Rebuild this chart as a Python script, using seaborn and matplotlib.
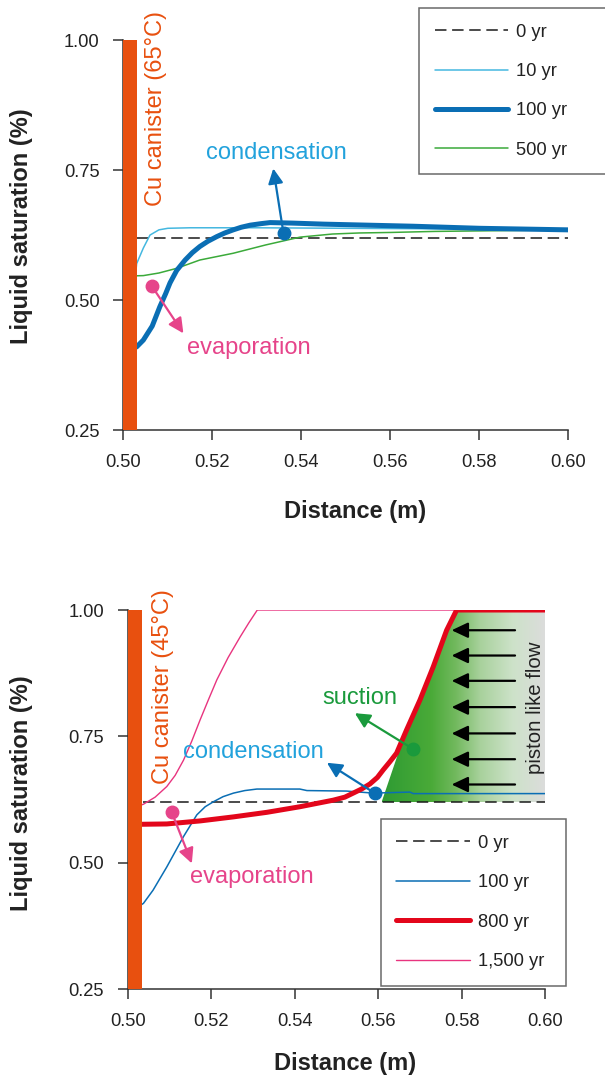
import numpy as np
import pandas as pd
import matplotlib
matplotlib.use("Agg")
import matplotlib.pyplot as plt
from matplotlib.colors import LinearSegmentedColormap
from matplotlib.patches import Polygon
from matplotlib.lines import Line2D
import seaborn as sns

# ---------------- data: canister at 65 °C ----------------
top_x_0 = [0.503, 0.600]
top_y_0 = [0.62, 0.62]

top_x_10 = [0.500, 0.503, 0.5045, 0.506, 0.508, 0.510, 0.515, 0.530, 0.550, 0.570, 0.600]
top_y_10 = [0.31, 0.57, 0.600, 0.625, 0.635, 0.638, 0.639, 0.639, 0.638, 0.637, 0.635]

top_x_100 = [0.500, 0.503, 0.5045, 0.5065, 0.5082, 0.5095, 0.5105, 0.512, 0.5139, 0.5155,
             0.5172, 0.519, 0.521, 0.5228, 0.5247, 0.5265, 0.5285, 0.531, 0.533, 0.538,
             0.545, 0.555, 0.565, 0.580, 0.600]
top_y_100 = [0.40, 0.41, 0.423, 0.450, 0.487, 0.512, 0.533, 0.557, 0.577, 0.591,
             0.603, 0.613, 0.622, 0.629, 0.635, 0.640, 0.644, 0.647, 0.649, 0.648,
             0.646, 0.644, 0.642, 0.638, 0.635]

top_x_500 = [0.500, 0.5045, 0.508, 0.512, 0.5172, 0.5247, 0.532, 0.5397, 0.547, 0.553, 0.560,
             0.570, 0.580, 0.590, 0.600]
top_y_500 = [0.546, 0.547, 0.552, 0.561, 0.577, 0.590, 0.606, 0.621, 0.627, 0.629, 0.630,
             0.632, 0.633, 0.634, 0.635]

top_labels = ["0 yr", "10 yr", "100 yr", "500 yr"]

# ---------------- data: canister at 45 °C ----------------
bot_x_0 = [0.5035, 0.600]
bot_y_0 = [0.62, 0.62]

bot_x_100 = [0.500, 0.5037, 0.506, 0.5093, 0.5133, 0.5165, 0.5185, 0.5205, 0.5228, 0.5253,
             0.528, 0.5309, 0.5412, 0.5429, 0.5524, 0.5588, 0.5676, 0.5684, 0.600]
bot_y_100 = [0.40, 0.42, 0.446, 0.492, 0.552, 0.595, 0.611, 0.621, 0.631, 0.638,
             0.643, 0.646, 0.646, 0.643, 0.642, 0.638, 0.640, 0.637, 0.637]

bot_x_800 = [0.500, 0.5093, 0.5173, 0.5253, 0.5333, 0.5412, 0.5492, 0.552, 0.554, 0.556, 0.558,
             0.5598, 0.5612, 0.5628, 0.5644, 0.5668, 0.570, 0.5732, 0.5764, 0.5788, 0.600]
bot_y_800 = [0.576, 0.577, 0.583, 0.591, 0.600, 0.611, 0.624, 0.630, 0.638, 0.646, 0.656,
             0.669, 0.684, 0.700, 0.717, 0.763, 0.822, 0.888, 0.960, 1.000, 1.000]

bot_x_1500 = [0.500, 0.5037, 0.5065, 0.5093, 0.5113, 0.5133, 0.5153, 0.5173, 0.5193, 0.5213,
              0.524, 0.5269, 0.529, 0.531, 0.600]
bot_y_1500 = [0.605, 0.616, 0.630, 0.651, 0.673, 0.703, 0.741, 0.783, 0.823, 0.862,
              0.906, 0.947, 0.975, 1.000, 1.000]

bot_labels = ["0 yr", "100 yr", "800 yr", "1,500 yr"]

# wetting front region (piston like flow)
front_x = [0.5608, 0.5648, 0.5668, 0.570, 0.5732, 0.5764, 0.5788, 0.600, 0.600]
front_y = [0.620, 0.717, 0.763, 0.822, 0.888, 0.960, 1.000, 1.000, 0.620]
piston_y = [0.960, 0.910, 0.860, 0.808, 0.756, 0.705, 0.655]
piston_x_tail, piston_x_head = 0.5928, 0.5776

x_ticks = [0.50, 0.52, 0.54, 0.56, 0.58, 0.60]
y_ticks = [0.25, 0.50, 0.75, 1.00]

# ---------------- colours ----------------
C_CAN = "#E8500F"
C_COND = "#22A2DC"
C_EVAP = "#E6448A"
C_BLACK = "#1A1A1A"
C_CYAN = "#45B8E0"
C_BLUE = "#0A6EB4"
C_GREEN = "#3BAA3A"
C_RED = "#E3061B"
C_PINK = "#E8347F"
C_SUCT = "#1A9A3C"
C_AXIS = "#333333"

sns.set_theme(style="white")
plt.rcParams["font.family"] = ["Liberation Sans", "DejaVu Sans"]
plt.rcParams["axes.edgecolor"] = C_AXIS
plt.rcParams["text.color"] = "#222222"

fig = plt.figure(figsize=(6.05, 10.77), dpi=100)
ax1 = fig.add_axes([0.2038, 0.6007, 0.7356, 0.3621])
ax2 = fig.add_axes([0.2116, 0.0814, 0.6893, 0.3522])

DASH = (0, (7.5, 3.7))


def style_axes(ax, lab_x, lab_y, xl_y):
    ax.set_xlim(0.50, 0.60)
    ax.set_ylim(0.25, 1.00)
    ax.set_xticks(x_ticks)
    ax.set_yticks(y_ticks)
    ax.set_xticklabels([f"{v:.2f}" for v in x_ticks])
    ax.set_yticklabels([f"{v:.2f}" for v in y_ticks])
    for s in ["top", "right"]:
        ax.spines[s].set_visible(False)
    for s in ["left", "bottom"]:
        ax.spines[s].set_linewidth(1.1)
        ax.spines[s].set_color(C_AXIS)
    ax.tick_params(direction="out", length=7.2, width=1.1, color=C_AXIS,
                   labelsize=13.2, labelcolor="#222222", pad=10,
                   left=True, bottom=True)
    ax.set_xlabel("Distance (m)", fontsize=17, fontweight="bold", color="#222222")
    ax.set_ylabel("Liquid saturation (%)", fontsize=17, fontweight="bold", color="#222222")
    ax.yaxis.set_label_coords(lab_x, lab_y)
    ax.xaxis.set_label_coords(0.52, xl_y)
    ax.grid(False)


def line(ax, x, y, color, lw, ls="-", z=3):
    df = pd.DataFrame({"x": x, "y": y})
    sns.lineplot(data=df, x="x", y="y", ax=ax, color=color, lw=lw, linestyle=ls,
                 sort=False, estimator=None, zorder=z, legend=False)


def pointer(ax, start, tip, color, ms=9):
    ax.annotate("", xy=tip, xytext=start,
                arrowprops=dict(arrowstyle="-|>,head_length=0.5,head_width=0.25",
                                color=color, lw=1.6, shrinkA=0, shrinkB=0,
                                mutation_scale=18), zorder=8)
    ax.plot([start[0]], [start[1]], marker="o", ms=ms, color=color, zorder=9)


# ================= top panel =================
line(ax1, top_x_0, top_y_0, C_BLACK, 1.1, DASH)
line(ax1, top_x_10, top_y_10, C_CYAN, 1.1)
line(ax1, top_x_500, top_y_500, C_GREEN, 1.1)
line(ax1, top_x_100, top_y_100, C_BLUE, 3.6, z=4)
ax1.axvspan(0.500, 0.503, color=C_CAN, zorder=6, lw=0)
style_axes(ax1, -0.203, 0.524, -0.18)

ax1.text(0.5073, 0.869, "Cu canister (65°C)", rotation=90, ha="center", va="center",
         fontsize=17, color=C_CAN, clip_on=False)
ax1.text(0.5344, 0.782, "condensation", ha="center", va="center", fontsize=17, color=C_COND)
ax1.text(0.5283, 0.408, "evaporation", ha="center", va="center", fontsize=17, color=C_EVAP)
pointer(ax1, (0.5360, 0.628), (0.5337, 0.753), C_BLUE)
pointer(ax1, (0.5064, 0.527), (0.5135, 0.436), C_EVAP)

h1 = [Line2D([], [], color=C_BLACK, lw=1.1, linestyle=DASH),
      Line2D([], [], color=C_CYAN, lw=1.1),
      Line2D([], [], color=C_BLUE, lw=3.6, solid_capstyle="round"),
      Line2D([], [], color=C_GREEN, lw=1.1)]
leg1 = fig.legend(h1, top_labels, loc="upper left",
                  bbox_to_anchor=(0.6926, 0.9926, 0.34, 0.0), mode="expand",
                  fontsize=13.2, frameon=True, fancybox=False, edgecolor="#444444",
                  handlelength=4.0, handletextpad=0.45, labelspacing=1.22,
                  borderpad=0.85, borderaxespad=0)
leg1.get_frame().set_linewidth(1.1)

# ================= bottom panel =================
# gradient fill of the advancing wetting front
grad_cmap = LinearSegmentedColormap.from_list(
    "front", [(0.0, "#2E9B33"), (0.3, "#4AAA38"), (0.45, "#72B95E"),
              (0.6, "#A8D19C"), (0.8, "#CDE2C9"), (1.0, "#DCDCDC")])
grad = np.linspace(0, 1, 256).reshape(1, -1)
img = ax2.imshow(grad, cmap=grad_cmap, aspect="auto", origin="lower",
                 extent=[min(front_x), max(front_x), min(front_y), max(front_y)],
                 zorder=1, interpolation="bilinear")
poly = Polygon(np.column_stack([front_x, front_y]), closed=True,
               transform=ax2.transData, facecolor="none", edgecolor="none")
ax2.add_patch(poly)
img.set_clip_path(poly)

for yy in piston_y:
    ax2.annotate("", xy=(piston_x_head, yy), xytext=(piston_x_tail, yy),
                 arrowprops=dict(arrowstyle="-|>,head_length=0.55,head_width=0.26",
                                 color="black", lw=1.6, shrinkA=0, shrinkB=0,
                                 mutation_scale=18), zorder=2)

line(ax2, bot_x_0, bot_y_0, C_BLACK, 1.1, DASH)
line(ax2, bot_x_100, bot_y_100, C_BLUE, 1.1)
line(ax2, bot_x_1500, bot_y_1500, C_PINK, 1.0)
line(ax2, bot_x_800, bot_y_800, C_RED, 3.6, z=4)
ax2.axvspan(0.500, 0.5034, color=C_CAN, zorder=6, lw=0)
style_axes(ax2, -0.228, 0.518, -0.1645)

ax2.text(0.5085, 0.848, "Cu canister (45°C)", rotation=90, ha="center", va="center",
         fontsize=17, color=C_CAN, clip_on=False)
ax2.text(0.5301, 0.720, "condensation", ha="center", va="center", fontsize=17, color=C_COND)
ax2.text(0.5296, 0.473, "evaporation", ha="center", va="center", fontsize=17, color=C_EVAP)
ax2.text(0.5555, 0.826, "suction", ha="center", va="center", fontsize=17, color=C_SUCT)
ax2.text(0.5976, 0.806, "piston like flow", rotation=90, ha="center", va="center",
         fontsize=14.7, color="#222222")
pointer(ax2, (0.5592, 0.6377), (0.5477, 0.698), C_BLUE)
pointer(ax2, (0.5105, 0.600), (0.5153, 0.499), C_EVAP)
pointer(ax2, (0.5684, 0.725), (0.5544, 0.796), C_SUCT)

h2 = [Line2D([], [], color=C_BLACK, lw=1.1, linestyle=DASH),
      Line2D([], [], color=C_BLUE, lw=1.1),
      Line2D([], [], color=C_RED, lw=3.6, solid_capstyle="round"),
      Line2D([], [], color=C_PINK, lw=1.0)]
leg2 = fig.legend(h2, bot_labels, loc="upper left",
                  bbox_to_anchor=(0.6293, 1 - 819.3 / 1077, 0.3058, 0.0), mode="expand",
                  fontsize=13.2, frameon=True, fancybox=False, edgecolor="#444444",
                  handlelength=4.0, handletextpad=0.45, labelspacing=1.22,
                  borderpad=0.85, borderaxespad=0)
leg2.get_frame().set_linewidth(1.1)

fig.savefig("out.png", dpi=100)
